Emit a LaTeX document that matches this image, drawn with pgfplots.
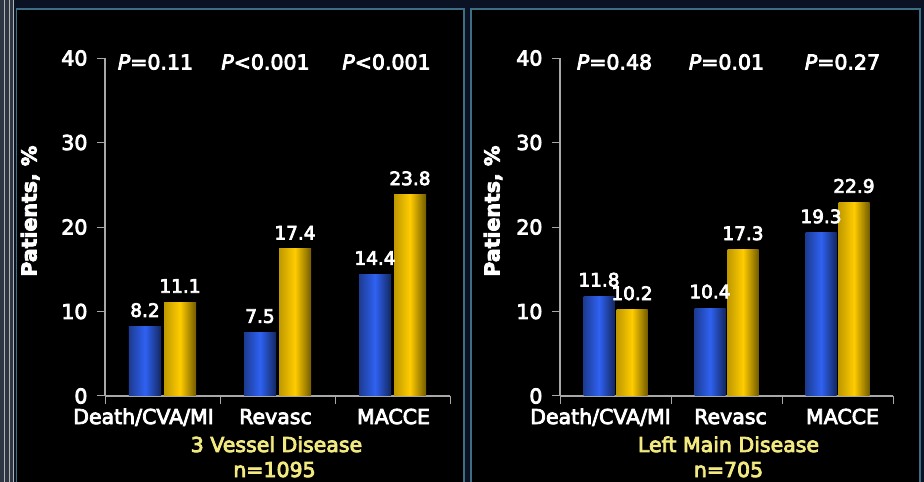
\documentclass[border=0pt]{standalone}
\usepackage{pgfplots}
\pgfplotsset{compat=1.18}
\usepackage{fontspec}
\setmainfont{DejaVu Sans}[FakeBold=4]
\definecolor{bgnavy}{HTML}{0A1224}
\definecolor{framec}{HTML}{3D6E84}
\definecolor{stripc}{HTML}{2E3644}
\definecolor{barblue}{HTML}{2F62F2}
\definecolor{baryellow}{HTML}{FFCC00}
\definecolor{subyellow}{HTML}{F2EA80}
\definecolor{axgray}{HTML}{A8A8A8}
\newcommand{\fbig}{\fontsize{20.5}{24}\selectfont}
\newcommand{\fmid}{\fontsize{18.5}{22}\selectfont}
\pgfplotsset{
  panel/.style={
    scale only axis, height=338pt,
    xmin=-0.5, xmax=2.5, ymin=0, ymax=40,
    axis x line*=bottom, axis y line*=left,
    axis line style={axgray, line width=1.2pt},
    ytick={0,10,20,30,40},
    xtick={-0.5,0.5,1.5,2.5}, xticklabels={},
    tick align=outside, major tick length=8pt,
    tick style={axgray, line width=1pt},
    yticklabel style={font=\fbig, text=white, xshift=-6pt},
    /pgf/number format/assume math mode=true,
    nodes near coords={\pgfmathprintnumber[fixed,fixed zerofill,precision=1]{\pgfplotspointmeta}},
    nodes near coords style={font=\fmid, text=white, yshift=6pt},
    clip=false,
    ylabel={Patients, \%},
    ylabel style={font=\bfseries\fbig, text=white, anchor=center},
  },
  bluebar/.style={ybar, draw=none, bar shift=#1, every node near coord/.append style={xshift=#1},
    left color=barblue!60!black, right color=barblue!40!black, middle color=barblue},
  yelbar/.style={ybar, draw=none, bar shift=#1, every node near coord/.append style={xshift=#1},
    left color=baryellow!75!black, right color=baryellow!45!black, middle color=baryellow},
}
\begin{document}
\begin{tikzpicture}[x=1pt,y=1pt]
\useasboundingbox (0,0) rectangle (924,482);
\fill[bgnavy] (0,0) rectangle (924,482);
\fill[stripc] (0,0) rectangle (14,482);
\draw[gray!60, line width=0.8pt] (4,0) -- (4,482) (9,0) -- (9,482) (13.5,0) -- (13.5,482);
\filldraw[fill=black, draw=framec, line width=1.5pt] (16.5,-5) rectangle (464,473);
\filldraw[fill=black, draw=framec, line width=1.5pt] (471,-5) rectangle (920,473);

% Left panel: 3 Vessel Disease
\begin{axis}[panel, width=345pt, at={(105pt,86pt)}, anchor=south west,
  bar width=32pt,
  ylabel style={at={(axis description cs:-0.217,0.547)}}]
\addplot[bluebar=-17.5pt] coordinates {(0,8.2)};
\addplot[bluebar=-17.5pt] coordinates {(1,7.5)};
\addplot[bluebar=-17.5pt] coordinates {(2,14.4)};
\addplot[yelbar=17.5pt] coordinates {(0,11.1)};
\addplot[yelbar=17.5pt] coordinates {(1,17.4)};
\addplot[yelbar=17.5pt] coordinates {(2,23.8)};
\node[text=white, font=\fbig, anchor=center] at (axis cs:0,40) [xshift=-7pt, yshift=-4pt] {\textit{P}=0.11};
\node[text=white, font=\fbig, anchor=center] at (axis cs:1,40) [xshift=-12pt, yshift=-4pt] {\textit{P}<0.001};
\node[text=white, font=\fbig, anchor=center] at (axis cs:2,40) [xshift=-6pt, yshift=-4pt] {\textit{P}<0.001};
\node[text=white, font=\fbig, anchor=base] at (axis cs:0,0) [xshift=-19pt, yshift=-28pt] {Death/CVA/MI};
\node[text=white, font=\fbig, anchor=base] at (axis cs:1,0) [xshift=-2pt, yshift=-28pt] {Revasc};
\node[text=white, font=\fbig, anchor=base] at (axis cs:2,0) [xshift=1pt, yshift=-28pt] {MACCE};
\node[text=subyellow, font=\fbig, anchor=base] at (axis cs:1,0) [xshift=-1pt, yshift=-56pt] {3 Vessel Disease};
\node[text=subyellow, font=\fbig, anchor=base] at (axis cs:1,0) [xshift=-3pt, yshift=-81pt] {n=1095};
\end{axis}

% Right panel: Left Main Disease
\begin{axis}[panel, width=333pt, at={(560pt,86pt)}, anchor=south west,
  bar width=31pt,
  ylabel style={at={(axis description cs:-0.201,0.547)}}]
\addplot[bluebar=-16.5pt] coordinates {(0,11.8)};
\addplot[bluebar=-16.5pt] coordinates {(1,10.4)};
\addplot[bluebar=-16.5pt] coordinates {(2,19.3)};
\addplot[yelbar=16.5pt] coordinates {(0,10.2)};
\addplot[yelbar=16.5pt] coordinates {(1,17.3)};
\addplot[yelbar=16.5pt] coordinates {(2,22.9)};
\node[text=white, font=\fbig, anchor=center] at (axis cs:0,40) [xshift=-1pt, yshift=-4pt] {\textit{P}=0.48};
\node[text=white, font=\fbig, anchor=center] at (axis cs:1,40) [xshift=0pt, yshift=-4pt] {\textit{P}=0.01};
\node[text=white, font=\fbig, anchor=center] at (axis cs:2,40) [xshift=5pt, yshift=-4pt] {\textit{P}=0.27};
\node[text=white, font=\fbig, anchor=base] at (axis cs:0,0) [xshift=-15pt, yshift=-28pt] {Death/CVA/MI};
\node[text=white, font=\fbig, anchor=base] at (axis cs:1,0) [xshift=4pt, yshift=-28pt] {Revasc};
\node[text=white, font=\fbig, anchor=base] at (axis cs:2,0) [xshift=5pt, yshift=-28pt] {MACCE};
\node[text=subyellow, font=\fbig, anchor=base] at (axis cs:1,0) [xshift=2pt, yshift=-56pt] {Left Main Disease};
\node[text=subyellow, font=\fbig, anchor=base] at (axis cs:1,0) [xshift=2pt, yshift=-81pt] {n=705};
\end{axis}
\end{tikzpicture}
\end{document}
